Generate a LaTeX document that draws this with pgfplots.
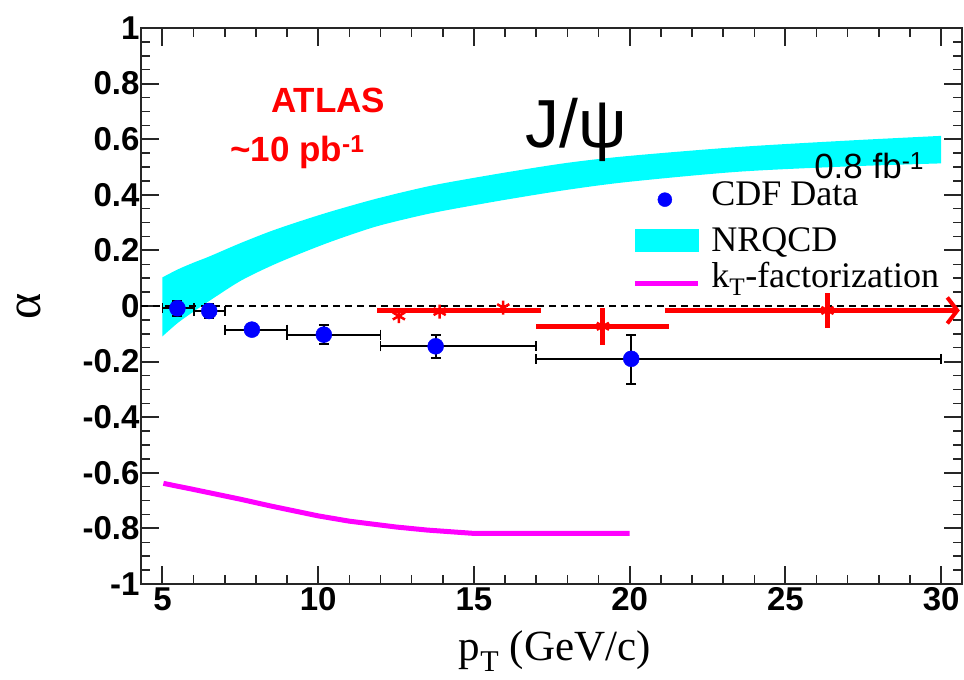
\documentclass[border=0pt]{standalone}
\usepackage{fontspec}
\setmainfont{Liberation Serif}
\newfontfamily\arial{Liberation Sans}
\usepackage{pgfplots}
\usepackage{pgfplotstable}
\pgfplotsset{compat=1.18}
\usepgfplotslibrary{fillbetween}
\usetikzlibrary{arrows.meta}
\definecolor{cdfblue}{RGB}{0,0,255}
\definecolor{nrcyan}{RGB}{0,255,255}
\definecolor{ktmag}{RGB}{255,0,255}
\definecolor{atlasred}{RGB}{255,0,0}

% CDF data: pT, alpha, x-errors (minus/plus), y-errors (minus/plus)
\pgfplotstableread{
x y xm xp ym yp
5.48 -0.008 0.48 0.52 0.027 0.027
6.50 -0.018 0.50 0.50 0.025 0.025
7.87 -0.085 0.87 1.13 0.020 0.020
10.18 -0.103 1.18 1.82 0.034 0.034
13.77 -0.145 1.77 3.23 0.042 0.042
20.05 -0.190 3.05 9.95 0.090 0.085
}\cdf

% NRQCD band edges
\pgfplotstableread{
x up lo
5.0 0.103 -0.109
5.5 0.132 -0.060
6.0 0.156 -0.020
6.5 0.178 0.018
7.5 0.226 0.090
8.5 0.270 0.145
9.5 0.308 0.192
10.5 0.343 0.235
11.8 0.384 0.284
13.0 0.417 0.318
14.0 0.441 0.342
16.0 0.480 0.382
18.0 0.515 0.418
20.0 0.540 0.447
23.5 0.572 0.483
27.0 0.595 0.502
30.0 0.612 0.513
}\nrqcd

% kT-factorization
\pgfplotstableread{
x y
5.03 -0.638
6.0 -0.660
7.5 -0.695
8.5 -0.720
10.0 -0.755
11.0 -0.774
12.5 -0.795
13.5 -0.806
14.5 -0.814
15.0 -0.818
20.0 -0.818
}\kt

% ATLAS bins: centre, alpha, x-errors, y-errors
\pgfplotstableread{
x y xm xp ym yp
14.50 -0.016 2.60 2.65 0.000 0.000
19.14 -0.073 2.14 2.11 0.069 0.065
}\atlas

\pgfplotstableread{
x y
12.59 -0.036
13.90 -0.020
15.94 -0.006
19.14 -0.073
26.35 -0.016
}\atlasstars

\begin{document}
\begin{tikzpicture}
\begin{axis}[name=ax,
  width=821pt, height=556pt, scale only axis,
  xmin=4.31, xmax=30.67, ymin=-1, ymax=1,
  xtick={5,10,15,20,25,30}, minor x tick num=4,
  ytick={-1,-0.8,-0.6,-0.4,-0.2,0,0.2,0.4,0.6,0.8,1}, minor y tick num=3,
  tick align=inside, major tick length=18pt, minor tick length=9pt,
  axis line style={line width=2pt, black!85},
  major tick style={line width=2pt, black!85},
  minor tick style={line width=1.5pt, black!85},
  /pgf/number format/.cd, fixed, assume math mode=true, /pgfplots/.cd,
  ticklabel style={font=\arial\bfseries\fontsize{33}{33}\selectfont},
  yticklabel style={xshift=2pt},
  xlabel={p\textsubscript{T} (GeV/c)},
  xlabel style={font=\fontsize{43}{43}\selectfont, at={(axis description cs:0.504,-0.12)}, anchor=center},
  ylabel={α},
  ylabel style={font=\fontsize{50}{50}\selectfont, at={(axis description cs:-0.136,0.5)}, anchor=center},
  legend style={draw=none, fill=none, at={(axis cs:20.08,0.457)}, anchor=north west,
    font=\fontsize{36}{36}\selectfont, row sep=7.5pt, inner sep=0pt,
    nodes={inner sep=0pt, text height=26pt, text depth=8pt},
    /tikz/every even column/.append style={column sep=0pt}},
  legend cell align=left,
]
% NRQCD band
\addplot[name path=up, draw=none, forget plot, smooth] table[x=x, y=up] {\nrqcd};
\addplot[name path=lo, draw=none, forget plot, smooth] table[x=x, y=lo] {\nrqcd};
\addplot[nrcyan, forget plot] fill between[of=up and lo];
% kT-factorization
\addplot[ktmag, line width=5pt, forget plot] table[x=x, y=y] {\kt};
% zero line
\addplot[black, line width=1.5pt, dash pattern=on 7pt off 5pt, forget plot] coordinates {(4.31,0) (30.67,0)};
% CDF data
\addplot[only marks, mark=*, mark size=8pt, cdfblue, forget plot,
  error bars/.cd, x dir=both, x explicit, y dir=both, y explicit,
  error bar style={black, line width=1.8pt}, error mark options={rotate=90, black, line width=1.8pt, mark size=5pt}]
  table[x=x, y=y, x error minus=xm, x error plus=xp, y error minus=ym, y error plus=yp] {\cdf};
% ATLAS
\addplot[draw=none, mark=none, forget plot,
  error bars/.cd, x dir=both, x explicit, y dir=both, y explicit,
  error bar style={atlasred, line width=5pt}, error mark=none]
  table[x=x, y=y, x error minus=xm, x error plus=xp, y error minus=ym, y error plus=yp] {\atlas};
\addplot[atlasred, line width=5pt, -{Straight Barb[length=10pt, width=26pt, line width=4pt]}, forget plot]
  coordinates {(21.15,-0.016) (30.60,-0.016)};
\addplot[atlasred, line width=5pt, forget plot] coordinates {(26.35,-0.080) (26.35,0.048)};
\addplot[only marks, mark=asterisk, mark size=7pt, atlasred, line width=2.5pt, forget plot]
  table[x=x, y=y] {\atlasstars};
% legend
\addlegendimage{legend image code/.code={\path (0pt,0pt) (63pt,0pt); \fill[cdfblue] (30pt,-1pt) circle (7pt);}}
\addlegendentry[text depth=13pt]{\hspace{11pt}CDF Data}
\addlegendimage{legend image code/.code={\fill[nrcyan] (0pt,-12pt) rectangle (63pt,10pt);}}
\addlegendentry[text depth=2pt]{\hspace{11pt}NRQCD}
\addlegendimage{legend image code/.code={\draw[ktmag, line width=5pt] (0pt,-5pt) -- (63pt,-5pt);}}
\addlegendentry{\hspace{11pt}k\textsubscript{T}-factorization}
% annotations
\node[font=\arial\bfseries\fontsize{35}{35}\selectfont, text=atlasred] at (axis cs:10.32,0.741) {ATLAS};
\node[font=\arial\bfseries\fontsize{35}{35}\selectfont, text=atlasred] at (axis cs:9.33,0.554) {\textasciitilde 10 pb\textsuperscript{-1}};
\node[font=\arial\fontsize{68}{68}\selectfont] at (axis cs:18.27,0.633) {J/ψ};
\node[font=\arial\fontsize{35}{35}\selectfont] at (axis cs:27.69,0.505) {0.8 fb\textsuperscript{-1}};
\end{axis}
\pgfresetboundingbox
\path[use as bounding box] ([xshift=-141pt,yshift=-96pt]ax.south west) rectangle ([xshift=2pt,yshift=28pt]ax.north east);
\end{tikzpicture}
\end{document}
